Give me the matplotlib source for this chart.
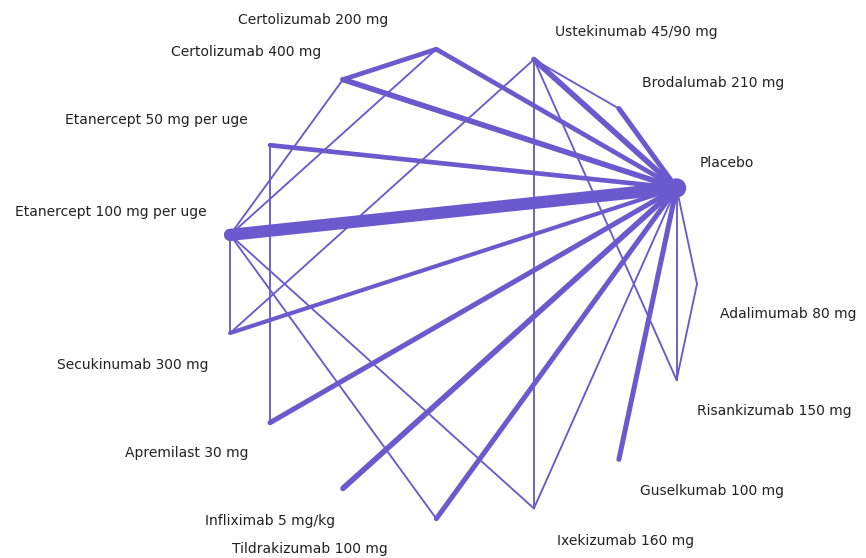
import numpy as np
import matplotlib.pyplot as plt

plt.rcParams['font.family'] = ['DejaVu Sans']

# treatments, placed counter-clockwise on a circle starting at 3 o'clock
treatments = [
    "Adalimumab 80 mg", "Placebo", "Brodalumab 210 mg", "Ustekinumab 45/90 mg",
    "Certolizumab 200 mg", "Certolizumab 400 mg", "Etanercept 50 mg per uge",
    "Etanercept 100 mg per uge", "Secukinumab 300 mg", "Apremilast 30 mg",
    "Infliximab 5 mg/kg", "Tildrakizumab 100 mg", "Ixekizumab 160 mg",
    "Guselkumab 100 mg", "Risankizumab 150 mg",
]
node_weight = [0, 8, 0, 0, 0, 0, 0, 5, 0, 0, 0, 0, 0, 0, 0]

# direct comparisons (number of trials)
edge_a = ["Etanercept 100 mg per uge", "Certolizumab 400 mg", "Certolizumab 200 mg",
          "Certolizumab 400 mg", "Ustekinumab 45/90 mg", "Brodalumab 210 mg",
          "Etanercept 50 mg per uge", "Secukinumab 300 mg", "Apremilast 30 mg",
          "Infliximab 5 mg/kg", "Tildrakizumab 100 mg", "Guselkumab 100 mg",
          "Ixekizumab 160 mg", "Adalimumab 80 mg", "Risankizumab 150 mg",
          "Certolizumab 400 mg", "Certolizumab 200 mg", "Ustekinumab 45/90 mg",
          "Etanercept 50 mg per uge", "Etanercept 100 mg per uge",
          "Etanercept 100 mg per uge", "Etanercept 100 mg per uge",
          "Ustekinumab 45/90 mg", "Ustekinumab 45/90 mg", "Ustekinumab 45/90 mg",
          "Adalimumab 80 mg"]
edge_b = ["Placebo", "Placebo", "Placebo",
          "Certolizumab 200 mg", "Placebo", "Placebo",
          "Placebo", "Placebo", "Placebo",
          "Placebo", "Placebo", "Placebo",
          "Placebo", "Placebo", "Placebo",
          "Etanercept 100 mg per uge", "Etanercept 100 mg per uge", "Secukinumab 300 mg",
          "Apremilast 30 mg", "Secukinumab 300 mg",
          "Tildrakizumab 100 mg", "Ixekizumab 160 mg",
          "Ixekizumab 160 mg", "Brodalumab 210 mg", "Risankizumab 150 mg",
          "Risankizumab 150 mg"]
edge_n = [6.5, 3, 2.5, 2.5, 3, 2.7, 2.5, 2.2, 2.7, 3, 2.7, 2.7,
          1, 1, 1, 1, 1, 1, 1, 1, 1, 1, 1, 1, 1, 1]

# label placement (pixels from node, ha)
label_dx = [23, 23, 23, 21, -48, -22, -22, -23, -22, -22, -8, -49, 23, 21, 20]
label_dy = [-30, 25, 26, 27, 29, 28, 25, 23, -32, -30, -33, -30, -33, -32, -31]

color = "#6A5ACD"

ang = np.deg2rad(24 * np.arange(len(treatments)))
px = np.cos(ang)
py = np.sin(ang)
pos = {t: (x, y) for t, x, y in zip(treatments, px, py)}

fig = plt.figure(figsize=(8.66, 5.58), dpi=100)
ax = fig.add_axes([0, 0, 1, 1])
ax.set_xlim(-1.953, 1.716)
ax.set_ylim(-1.161, 1.203)
ax.axis("off")

for a, b, n in zip(edge_a, edge_b, edge_n):
    (x1, y1), (x2, y2) = pos[a], pos[b]
    ax.plot([x1, x2], [y1, y2], color=color, lw=1.35 * n,
            solid_capstyle="round", zorder=2)

sizes = [w ** 2 * 3 for w in node_weight]
ax.scatter(px, py, s=sizes, color=color, zorder=3, linewidths=0)

for t, x, y, dx, dy in zip(treatments, px, py, label_dx, label_dy):
    ax.annotate(t, xy=(x, y), xytext=(dx, dy), textcoords="offset pixels",
                ha="left" if dx > 0 else "right", va="center",
                fontsize=10, color="#222222")

fig.savefig("out.png", dpi=100)
